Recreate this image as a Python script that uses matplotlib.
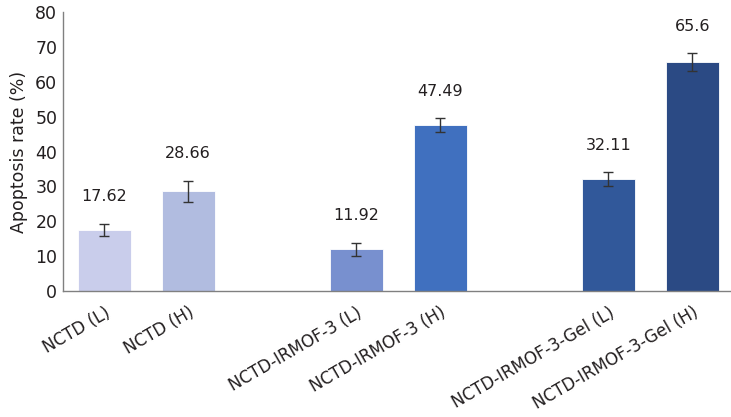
import numpy as np
import matplotlib.pyplot as plt

# groups and values
labels = ["NCTD (L)", "NCTD (H)", "NCTD-IRMOF-3 (L)", "NCTD-IRMOF-3 (H)",
          "NCTD-IRMOF-3-Gel (L)", "NCTD-IRMOF-3-Gel (H)"]
values = [17.62, 28.66, 11.92, 47.49, 32.11, 65.6]
errors = [1.7, 3.0, 1.9, 2.0, 2.0, 2.6]
colors = ["#c9cdeb", "#b1bce0", "#7890cf", "#4070bf", "#31589a", "#2b4a84"]
slots = [0, 1, 3, 4, 6, 7]   # empty slot between each pair

plt.rcParams['font.family'] = ['DejaVu Sans']

fig = plt.figure(figsize=(7.31, 4.17), dpi=100)
ax = fig.add_axes([0.086, 0.302, 0.914, 0.669])

ax.bar(slots, values, width=0.63, color=colors, edgecolor="white", linewidth=0.6,
       yerr=errors, capsize=3.5, error_kw=dict(ecolor="#333333", elinewidth=1, capthick=1))

# value labels above error bars
for x, v, e in zip(slots, values, errors):
    ax.annotate(str(v), (x, v + e), xytext=(0, 14), textcoords="offset points",
                ha="center", va="bottom", fontsize=11.5, color="#231f20")

ax.set_xlim(-0.49, 7.46)
ax.set_ylim(0, 80)
ax.set_yticks(np.arange(0, 81, 10))
ax.set_xticks(slots)
ax.set_xticklabels(labels, rotation=30, ha="right", rotation_mode="anchor",
                   fontsize=12, color="#231f20")
ax.tick_params(axis="x", length=0, pad=9)
ax.tick_params(axis="y", length=0, labelsize=12.5, labelcolor="#231f20", pad=4)
ax.set_ylabel("Apoptosis rate (%)", fontsize=12.5, color="#231f20", labelpad=5)

for s in ["top", "right"]:
    ax.spines[s].set_visible(False)
for s in ["left", "bottom"]:
    ax.spines[s].set_color("#808080")
    ax.spines[s].set_linewidth(1)

plt.savefig("out.png", dpi=100)
